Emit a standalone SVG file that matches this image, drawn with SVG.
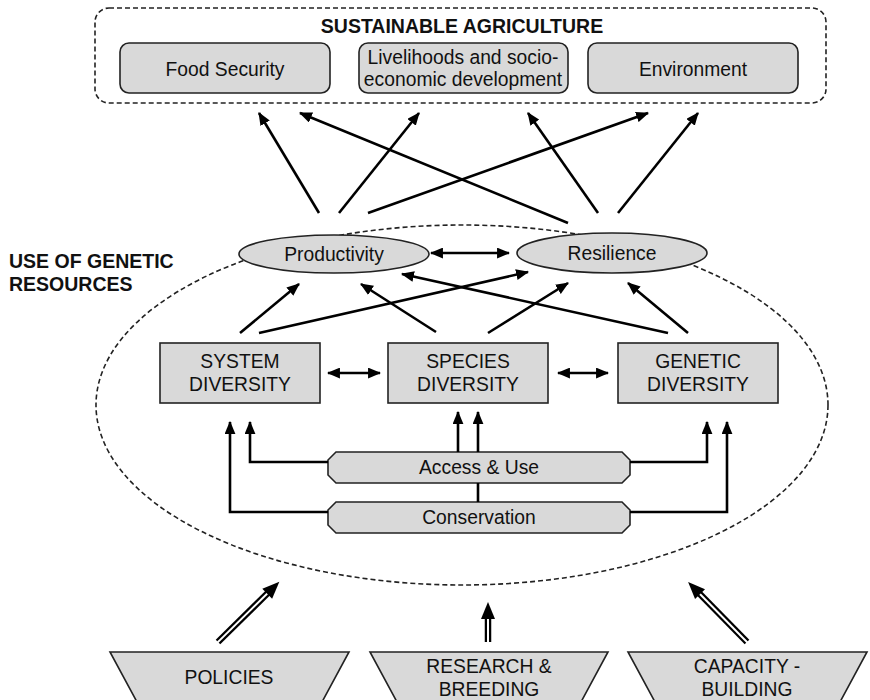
<svg xmlns="http://www.w3.org/2000/svg" width="870" height="700" viewBox="0 0 870 700">
  <style>
    text { font-family: "Liberation Sans", Arial, sans-serif; fill: #111; }
    .lbl { font-size: 19.3px; text-anchor: middle; }
    .head { font-size: 19.5px; font-weight: bold; }
    .box { fill: #d9d9d9; stroke: #222; stroke-width: 1.6; }
    .zone { fill: none; stroke: #222; stroke-width: 1.6; stroke-dasharray: 5 3; }
    .link { fill: none; stroke: #000; stroke-width: 2.6; }
    .dbl-out { stroke: #000; stroke-width: 6.5; }
    .dbl-in { stroke: #fff; stroke-width: 2; }
  </style>
  <defs>
    <marker id="tip" viewBox="0 0 12 10" refX="11" refY="5" markerWidth="13" markerHeight="11" markerUnits="userSpaceOnUse" orient="auto-start-reverse">
      <path d="M0,0 L12,5 L0,10 z" fill="#000"/>
    </marker>
  </defs>

  <rect x="0" y="0" width="870" height="700" fill="#fff"/>

  <!-- outer zones -->
  <rect id="sustainable-agriculture" class="zone" x="95" y="8" width="731" height="95" rx="14"/>
  <text class="head" x="462" y="33" text-anchor="middle">SUSTAINABLE AGRICULTURE</text>
  <ellipse id="genetic-resources-zone" class="zone" cx="462" cy="405" rx="366" ry="180"/>
  <text class="head" x="9" y="268">USE OF GENETIC</text>
  <text class="head" x="9" y="291">RESOURCES</text>

  <!-- goals -->
  <g id="food-security">
    <rect class="box" x="120" y="43" width="210" height="50" rx="9"/>
    <text class="lbl" x="225" y="76">Food Security</text>
  </g>
  <g id="livelihoods">
    <rect class="box" x="359" y="43" width="209" height="50" rx="9"/>
    <text class="lbl" x="463" y="64">Livelihoods and socio-</text>
    <text class="lbl" x="463" y="86">economic development</text>
  </g>
  <g id="environment">
    <rect class="box" x="588" y="43" width="210" height="50" rx="9"/>
    <text class="lbl" x="693" y="76">Environment</text>
  </g>

  <!-- outcomes -->
  <g id="productivity">
    <ellipse class="box" cx="334" cy="254" rx="95" ry="19"/>
    <text class="lbl" x="334" y="261">Productivity</text>
  </g>
  <g id="resilience">
    <ellipse class="box" cx="612" cy="253" rx="95" ry="20"/>
    <text class="lbl" x="612" y="260">Resilience</text>
  </g>

  <!-- diversity levels -->
  <g id="system-diversity">
    <rect class="box" x="160" y="343" width="160" height="60"/>
    <text class="lbl" x="240" y="368">SYSTEM</text>
    <text class="lbl" x="240" y="391">DIVERSITY</text>
  </g>
  <g id="species-diversity">
    <rect class="box" x="388" y="343" width="160" height="60"/>
    <text class="lbl" x="468" y="368">SPECIES</text>
    <text class="lbl" x="468" y="391">DIVERSITY</text>
  </g>
  <g id="genetic-diversity">
    <rect class="box" x="618" y="343" width="160" height="60"/>
    <text class="lbl" x="698" y="368">GENETIC</text>
    <text class="lbl" x="698" y="391">DIVERSITY</text>
  </g>

  <!-- activities -->
  <g id="access-use">
    <path class="box" d="M336,452 H622 L630,460 V475 L622,483 H336 L328,475 V460 Z"/>
    <text class="lbl" x="479" y="474">Access &amp; Use</text>
  </g>
  <g id="conservation">
    <path class="box" d="M336,502 H622 L630,510 V525 L622,533 H336 L328,525 V510 Z"/>
    <text class="lbl" x="479" y="524">Conservation</text>
  </g>

  <!-- enabling factors -->
  <g id="policies">
    <path class="box" d="M110,652 H349 L322,702 H137 Z"/>
    <text class="lbl" x="229" y="684">POLICIES</text>
  </g>
  <g id="research-breeding">
    <path class="box" d="M370,652 H608 L581,702 H397 Z"/>
    <text class="lbl" x="489" y="673">RESEARCH &amp;</text>
    <text class="lbl" x="489" y="696">BREEDING</text>
  </g>
  <g id="capacity-building">
    <path class="box" d="M628,652 H867 L840,702 H655 Z"/>
    <text class="lbl" x="747" y="673">CAPACITY -</text>
    <text class="lbl" x="747" y="696">BUILDING</text>
  </g>

  <g id="connectors">
    <!-- outcomes to goals -->
    <line class="link" x1="319" y1="213" x2="259" y2="113" marker-end="url(#tip)"/>
    <line class="link" x1="339" y1="213" x2="419" y2="113" marker-end="url(#tip)"/>
    <line class="link" x1="368" y1="213" x2="648" y2="113" marker-end="url(#tip)"/>
    <line class="link" x1="568" y1="223" x2="300" y2="113" marker-end="url(#tip)"/>
    <line class="link" x1="598" y1="213" x2="528" y2="113" marker-end="url(#tip)"/>
    <line class="link" x1="618" y1="213" x2="698" y2="113" marker-end="url(#tip)"/>

    <!-- outcomes linked -->
    <line class="link" x1="431" y1="253" x2="509" y2="253" marker-start="url(#tip)" marker-end="url(#tip)"/>

    <!-- diversity to outcomes -->
    <line class="link" x1="240" y1="333" x2="299" y2="284" marker-end="url(#tip)"/>
    <line class="link" x1="259" y1="333" x2="528" y2="272" marker-end="url(#tip)"/>
    <line class="link" x1="436" y1="332" x2="361" y2="284" marker-end="url(#tip)"/>
    <line class="link" x1="488" y1="333" x2="568" y2="283" marker-end="url(#tip)"/>
    <line class="link" x1="668" y1="333" x2="402" y2="274" marker-end="url(#tip)"/>
    <line class="link" x1="688" y1="333" x2="628" y2="283" marker-end="url(#tip)"/>

    <!-- diversity levels linked -->
    <line class="link" x1="328" y1="373" x2="380" y2="373" marker-start="url(#tip)" marker-end="url(#tip)"/>
    <line class="link" x1="558" y1="373" x2="608" y2="373" marker-start="url(#tip)" marker-end="url(#tip)"/>

    <!-- activities to diversity levels -->
    <polyline class="link" points="328,462 250,462 250,422" marker-end="url(#tip)"/>
    <polyline class="link" points="328,512 230,512 230,422" marker-end="url(#tip)"/>
    <polyline class="link" points="630,462 707,462 707,422" marker-end="url(#tip)"/>
    <polyline class="link" points="630,512 727,512 727,422" marker-end="url(#tip)"/>
    <line class="link" x1="458" y1="452" x2="458" y2="412" marker-end="url(#tip)"/>
    <line class="link" x1="478" y1="452" x2="478" y2="412" marker-end="url(#tip)"/>
    <line class="link" x1="478" y1="483" x2="478" y2="502"/>

    <!-- enabling factors into the zone -->
    <g transform="translate(218,642) rotate(-44.5)">
      <line class="dbl-out" x1="0" y1="0" x2="72" y2="0"/>
      <line class="dbl-in" x1="-2" y1="0" x2="72" y2="0"/>
      <path d="M69,-7 L86,0 L69,7 Z" fill="#000"/>
    </g>
    <g transform="translate(488,642) rotate(-90)">
      <line class="dbl-out" x1="0" y1="0" x2="26" y2="0"/>
      <line class="dbl-in" x1="-2" y1="0" x2="26" y2="0"/>
      <path d="M23,-7 L40,0 L23,7 Z" fill="#000"/>
    </g>
    <g transform="translate(747,642) rotate(-134.5)">
      <line class="dbl-out" x1="0" y1="0" x2="70" y2="0"/>
      <line class="dbl-in" x1="-2" y1="0" x2="70" y2="0"/>
      <path d="M67,-7 L84,0 L67,7 Z" fill="#000"/>
    </g>
  </g>
</svg>
